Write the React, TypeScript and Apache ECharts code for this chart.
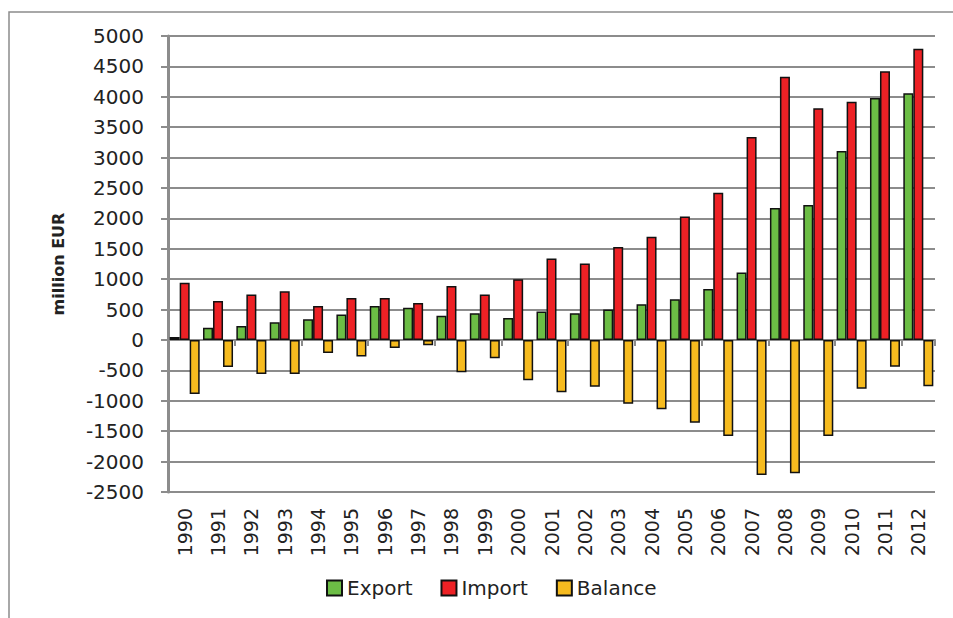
import React, { useEffect, useRef } from "react";
import * as echarts from "echarts";

const years = ["1990","1991","1992","1993","1994","1995","1996","1997","1998","1999","2000","2001","2002","2003","2004","2005","2006","2007","2008","2009","2010","2011","2012"];
const exportValues = [50, 200, 230, 290, 340, 420, 560, 530, 400, 440, 360, 470, 440, 500, 590, 670, 840, 1110, 2170, 2220, 3110, 3980, 4060];
const importValues = [940, 640, 750, 800, 560, 690, 690, 610, 890, 750, 1000, 1340, 1260, 1530, 1700, 2030, 2420, 3340, 4330, 3810, 3920, 4420, 4790];
const balanceValues = [-890, -445, -560, -560, -215, -270, -130, -85, -530, -300, -660, -860, -770, -1050, -1140, -1360, -1580, -2220, -2190, -1580, -800, -440, -760];
const seriesNames = ["Export", "Import", "Balance"];
const seriesColors = ["#6cbd45", "#ed2125", "#f6bb1f"];
const yTitle = "million EUR";

const FONT = "DejaVu Sans";
const GRAY = "#8c8c8c";
const TEXT = "#222222";

export default function App() {
  const ref = useRef<HTMLDivElement>(null);
  useEffect(() => {
    if (!ref.current) return;
    const chart = echarts.init(ref.current, null, { renderer: "svg" });
    const values = [exportValues, importValues, balanceValues];
    chart.setOption({
      animation: false,
      backgroundColor: "#ffffff",
      textStyle: { fontFamily: FONT },
      grid: { left: 168, right: 18, top: 36, bottom: 126, containLabel: false },
      legend: {
        data: seriesNames,
        left: 321,
        top: 573,
        icon: "rect",
        itemWidth: 15,
        itemHeight: 15,
        itemGap: 28,
        textStyle: { fontFamily: FONT, fontSize: 20, color: TEXT },
      },
      graphic: [
        {
          type: "rect",
          silent: true,
          z: -10,
          shape: { x: 9, y: 12, width: 1000, height: 700 },
          style: { fill: "none", stroke: GRAY, lineWidth: 1.5 },
        },
      ],
      xAxis: [
        {
          type: "category",
          data: years,
          position: "bottom",
          axisLine: { show: true, onZero: true, lineStyle: { color: GRAY, width: 2 } },
          axisTick: { show: true, length: 6, lineStyle: { color: GRAY, width: 2 } },
          axisLabel: { show: false },
          splitLine: { show: false },
        },
        {
          type: "category",
          data: years,
          position: "bottom",
          axisLine: { show: false, onZero: false },
          axisTick: { show: false },
          axisLabel: { rotate: 90, fontSize: 19, color: TEXT, fontFamily: FONT, margin: 16 },
          splitLine: { show: false },
        },
      ],
      yAxis: {
        type: "value",
        min: -2500,
        max: 5000,
        interval: 500,
        name: yTitle,
        nameLocation: "middle",
        nameGap: 102,
        nameTextStyle: { fontFamily: FONT, fontSize: 16, fontWeight: "bold", color: TEXT },
        axisLine: { show: true, lineStyle: { color: GRAY, width: 3 } },
        axisTick: { show: true, length: 7, lineStyle: { color: GRAY, width: 2 } },
        axisLabel: {
          fontSize: 20,
          color: TEXT,
          fontFamily: FONT,
          margin: 24,
          formatter: (v: number) => String(v),
        },
        splitLine: { show: true, lineStyle: { color: GRAY, width: 2 } },
      },
      series: seriesNames.map((name, i) => ({
        name,
        type: "bar",
        xAxisIndex: 0,
        yAxisIndex: 0,
        data: values[i],
        barGap: "0%",
        barCategoryGap: "10%",
        itemStyle: { color: seriesColors[i], borderColor: "#111111", borderWidth: 1.5 },
      })),
    });
    return () => chart.dispose();
  }, []);
  return (
    <div
      ref={ref}
      style={{ position: "fixed", left: 0, top: 0, width: 953, height: 618 }}
    />
  );
}
